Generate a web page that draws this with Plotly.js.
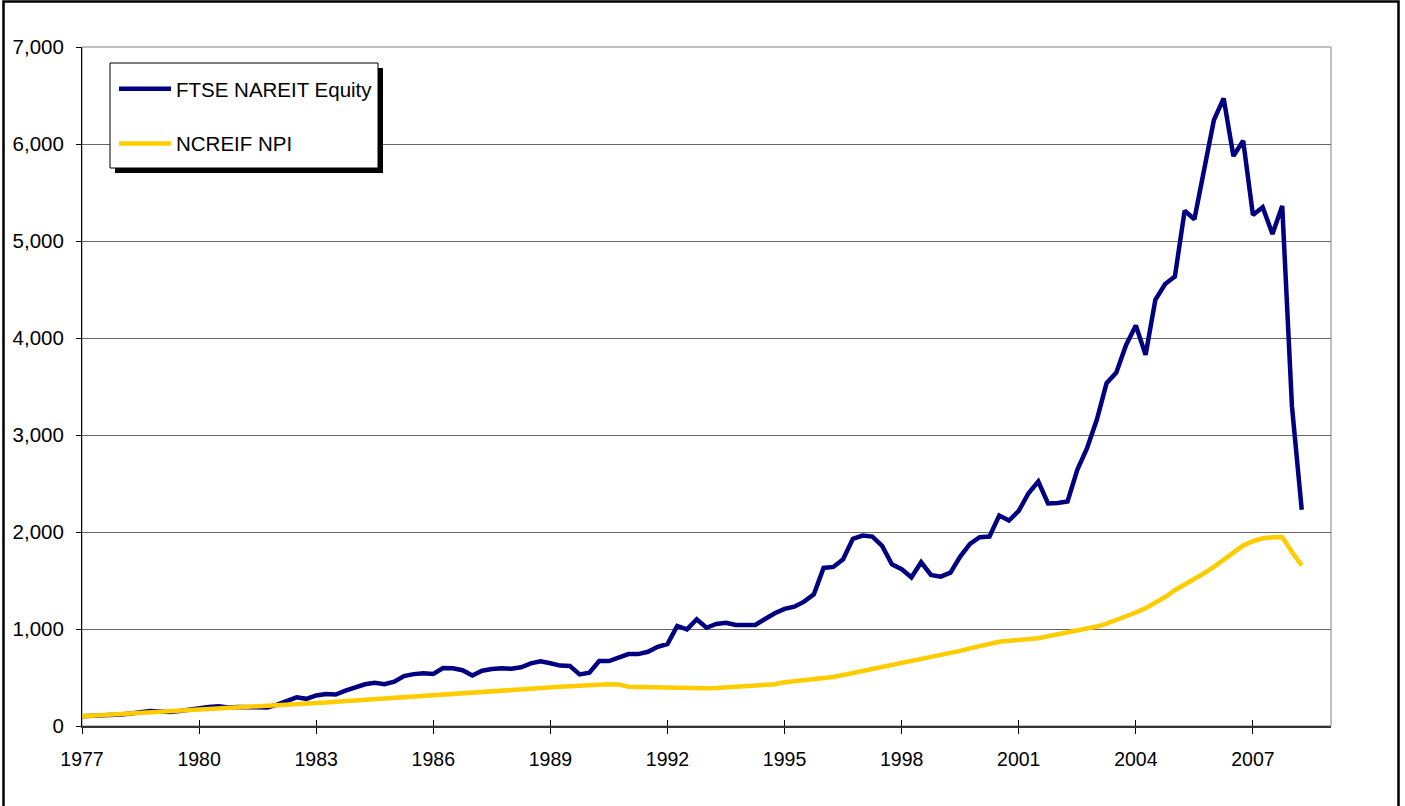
<!DOCTYPE html>
<html>
<head>
<meta charset="utf-8">
<script src="https://cdn.plot.ly/plotly-3.0.1.min.js"></script>
<style>
  html, body { margin: 0; padding: 0; background: #ffffff; }
  #chart { width: 1405px; height: 806px; }
</style>
</head>
<body>
<div id="chart"></div>
<script>
// Quarterly index levels, Q1 1977 .. Q2 2008 (126 quarters)
const startYear = 1977;
const seriesNames = ["FTSE NAREIT Equity", "NCREIF NPI"];

const reitValues = [
  100, 103, 107, 112, 118, 128, 140, 155, 150, 145, 155, 170,
  185, 195, 203, 190, 197, 193, 190, 192, 220, 255, 295, 280,
  315, 330, 325, 365, 392, 430, 445, 430, 457, 515, 535, 545,
  537, 597, 595, 575, 520, 570, 587, 595, 590, 606, 646, 667,
  647, 623, 619, 532, 549, 669, 669, 700, 741, 741, 765, 817,
  845, 1031, 997, 1100, 1013, 1052, 1065, 1041, 1041, 1041, 1103, 1162,
  1207, 1230, 1282, 1358, 1630, 1640, 1719, 1929, 1963, 1953, 1857, 1667,
  1616, 1533, 1688, 1557, 1540, 1581, 1746, 1877, 1946, 1953, 2169, 2118,
  2218, 2400, 2520, 2295, 2300, 2315, 2642, 2865, 3157, 3535, 3644, 3929,
  4128, 3826, 4393, 4557, 4633, 5312, 5224, 5714, 6247, 6470, 5876, 6033,
  5268, 5348, 5072, 5361, 3294, 2230
];

const npiValues = [
  100, 105, 110, 115, 120, 126, 132, 138, 144, 150, 157, 164,
  170, 176, 181, 186, 190, 195, 200, 204, 209, 215, 221, 228,
  235, 243, 251, 258, 265, 273, 280, 288, 295, 302, 309, 316,
  324, 331, 337, 343, 350, 356, 362, 368, 374, 380, 386, 392,
  398, 404, 410, 416, 428, 430, 430, 429, 405, 402, 400, 395,
  390, 388, 388, 389, 390, 393, 398, 404, 410, 416, 422, 430,
  450, 460, 468, 478, 492, 505, 525, 545, 565, 585, 605, 625,
  650, 668, 685, 705, 725, 750, 775, 800, 825, 848, 868, 878,
  885, 895, 905, 925, 945, 962, 980, 1000, 1025, 1055, 1090, 1130,
  1170, 1215, 1270, 1330, 1400, 1455, 1510, 1575, 1640, 1710, 1790, 1860,
  1905, 1935, 1945, 1948, 1795, 1655
];

const tickYears = [1977, 1980, 1983, 1986, 1989, 1992, 1995, 1998, 2001, 2004, 2007];
const tickLabels = ["1977", "1980", "1983", "1986", "1989", "1992", "1995", "1998", "2001", "2004", "2007"];
const yTickVals = [0, 1000, 2000, 3000, 4000, 5000, 6000, 7000];
const yTickLabels = ["0", "1,000", "2,000", "3,000", "4,000", "5,000", "6,000", "7,000"];

// quarter positions (category axis) as decimal years
const quarters = reitValues.map((_, i) => startYear + i / 4);

const FONT = "Arial, 'Liberation Sans', sans-serif";

const traces = [
  {
    x: quarters, y: reitValues, name: seriesNames[0], type: "scatter", mode: "lines",
    line: { color: "#000080", width: 4.5 }, legendgroup: "a"
  },
  {
    x: quarters, y: npiValues, name: seriesNames[1], type: "scatter", mode: "lines",
    line: { color: "#FFCC00", width: 4.5 }, legendgroup: "b"
  }
];

// pixel helpers for the decorative frame / legend box (paper coords)
const L = 82, R = 1331, T = 47, B = 726;
const px = v => (v - L) / (R - L);
const py = v => (B - v) / (B - T);

const layout = {
  width: 1405, height: 806,
  margin: { l: L, r: 1405 - R, t: T, b: 806 - B, pad: 0 },
  paper_bgcolor: "#ffffff", plot_bgcolor: "#ffffff",
  font: { family: FONT, size: 20, color: "#000000" },
  showlegend: true,
  hovermode: false,
  xaxis: {
    range: [1977, 2009], type: "linear",
    tickvals: tickYears, ticktext: tickLabels,
    ticks: "outside", ticklen: 6, tickwidth: 1, tickcolor: "#000000",
    showgrid: false, zeroline: false,
    showline: true, linecolor: "#333333", linewidth: 2,
    ticklabelstandoff: 9,
    tickfont: { family: FONT, size: 19.5, color: "#000000" }
  },
  xaxis2: {
    range: [1977, 2009], type: "linear", overlaying: "x", anchor: "y",
    tickvals: tickYears, ticktext: tickLabels, showticklabels: false,
    ticks: "inside", ticklen: 6, tickwidth: 1, tickcolor: "#000000",
    showgrid: false, zeroline: false, showline: false
  },
  yaxis: {
    range: [0, 7000],
    tickvals: yTickVals, ticktext: yTickLabels,
    ticks: "outside", ticklen: 5, tickwidth: 1, tickcolor: "#000000",
    showgrid: true, gridcolor: "#666666", gridwidth: 1,
    zeroline: false,
    showline: true, linecolor: "#000000", linewidth: 1,
    ticklabelstandoff: 8,
    tickfont: { family: FONT, size: 20.5, color: "#000000" }
  },
  legend: {
    x: px(114), y: py(69), xanchor: "left", yanchor: "top",
    bgcolor: "rgba(0,0,0,0)", borderwidth: 0,
    font: { family: FONT, size: 20.5, color: "#000000" },
    traceorder: "grouped", tracegroupgap: 25,
    itemwidth: 52, itemclick: false, itemdoubleclick: false
  },
  shapes: [
    // plot area frame (gray top/right)
    { type: "rect", xref: "paper", yref: "paper", x0: 0, x1: 1, y0: 0, y1: 1,
      line: { color: "#808080", width: 1 }, layer: "below" },
    // legend shadow
    { type: "rect", xref: "paper", yref: "paper", x0: px(115), x1: px(383), y0: py(173), y1: py(68),
      fillcolor: "#000000", line: { width: 0 }, layer: "above" },
    // legend box
    { type: "rect", xref: "paper", yref: "paper", x0: px(110), x1: px(378), y0: py(168), y1: py(63),
      fillcolor: "#ffffff", line: { color: "#000000", width: 1 }, layer: "above" },
    // outer chart border
    { type: "rect", xref: "paper", yref: "paper", x0: px(3.5), x1: px(1398.5), y0: py(812), y1: py(1.5),
      line: { color: "#000000", width: 2.5 }, layer: "above" }
  ]
};

// invisible helper trace so xaxis2 is drawn (crossing tick marks)
traces.push({ x: [1977], y: [0], xaxis: "x2", yaxis: "y", mode: "markers",
  marker: { opacity: 0 }, showlegend: false, hoverinfo: "skip" });

Plotly.newPlot("chart", traces, layout, { displayModeBar: false, staticPlot: true });
</script>
</body>
</html>
